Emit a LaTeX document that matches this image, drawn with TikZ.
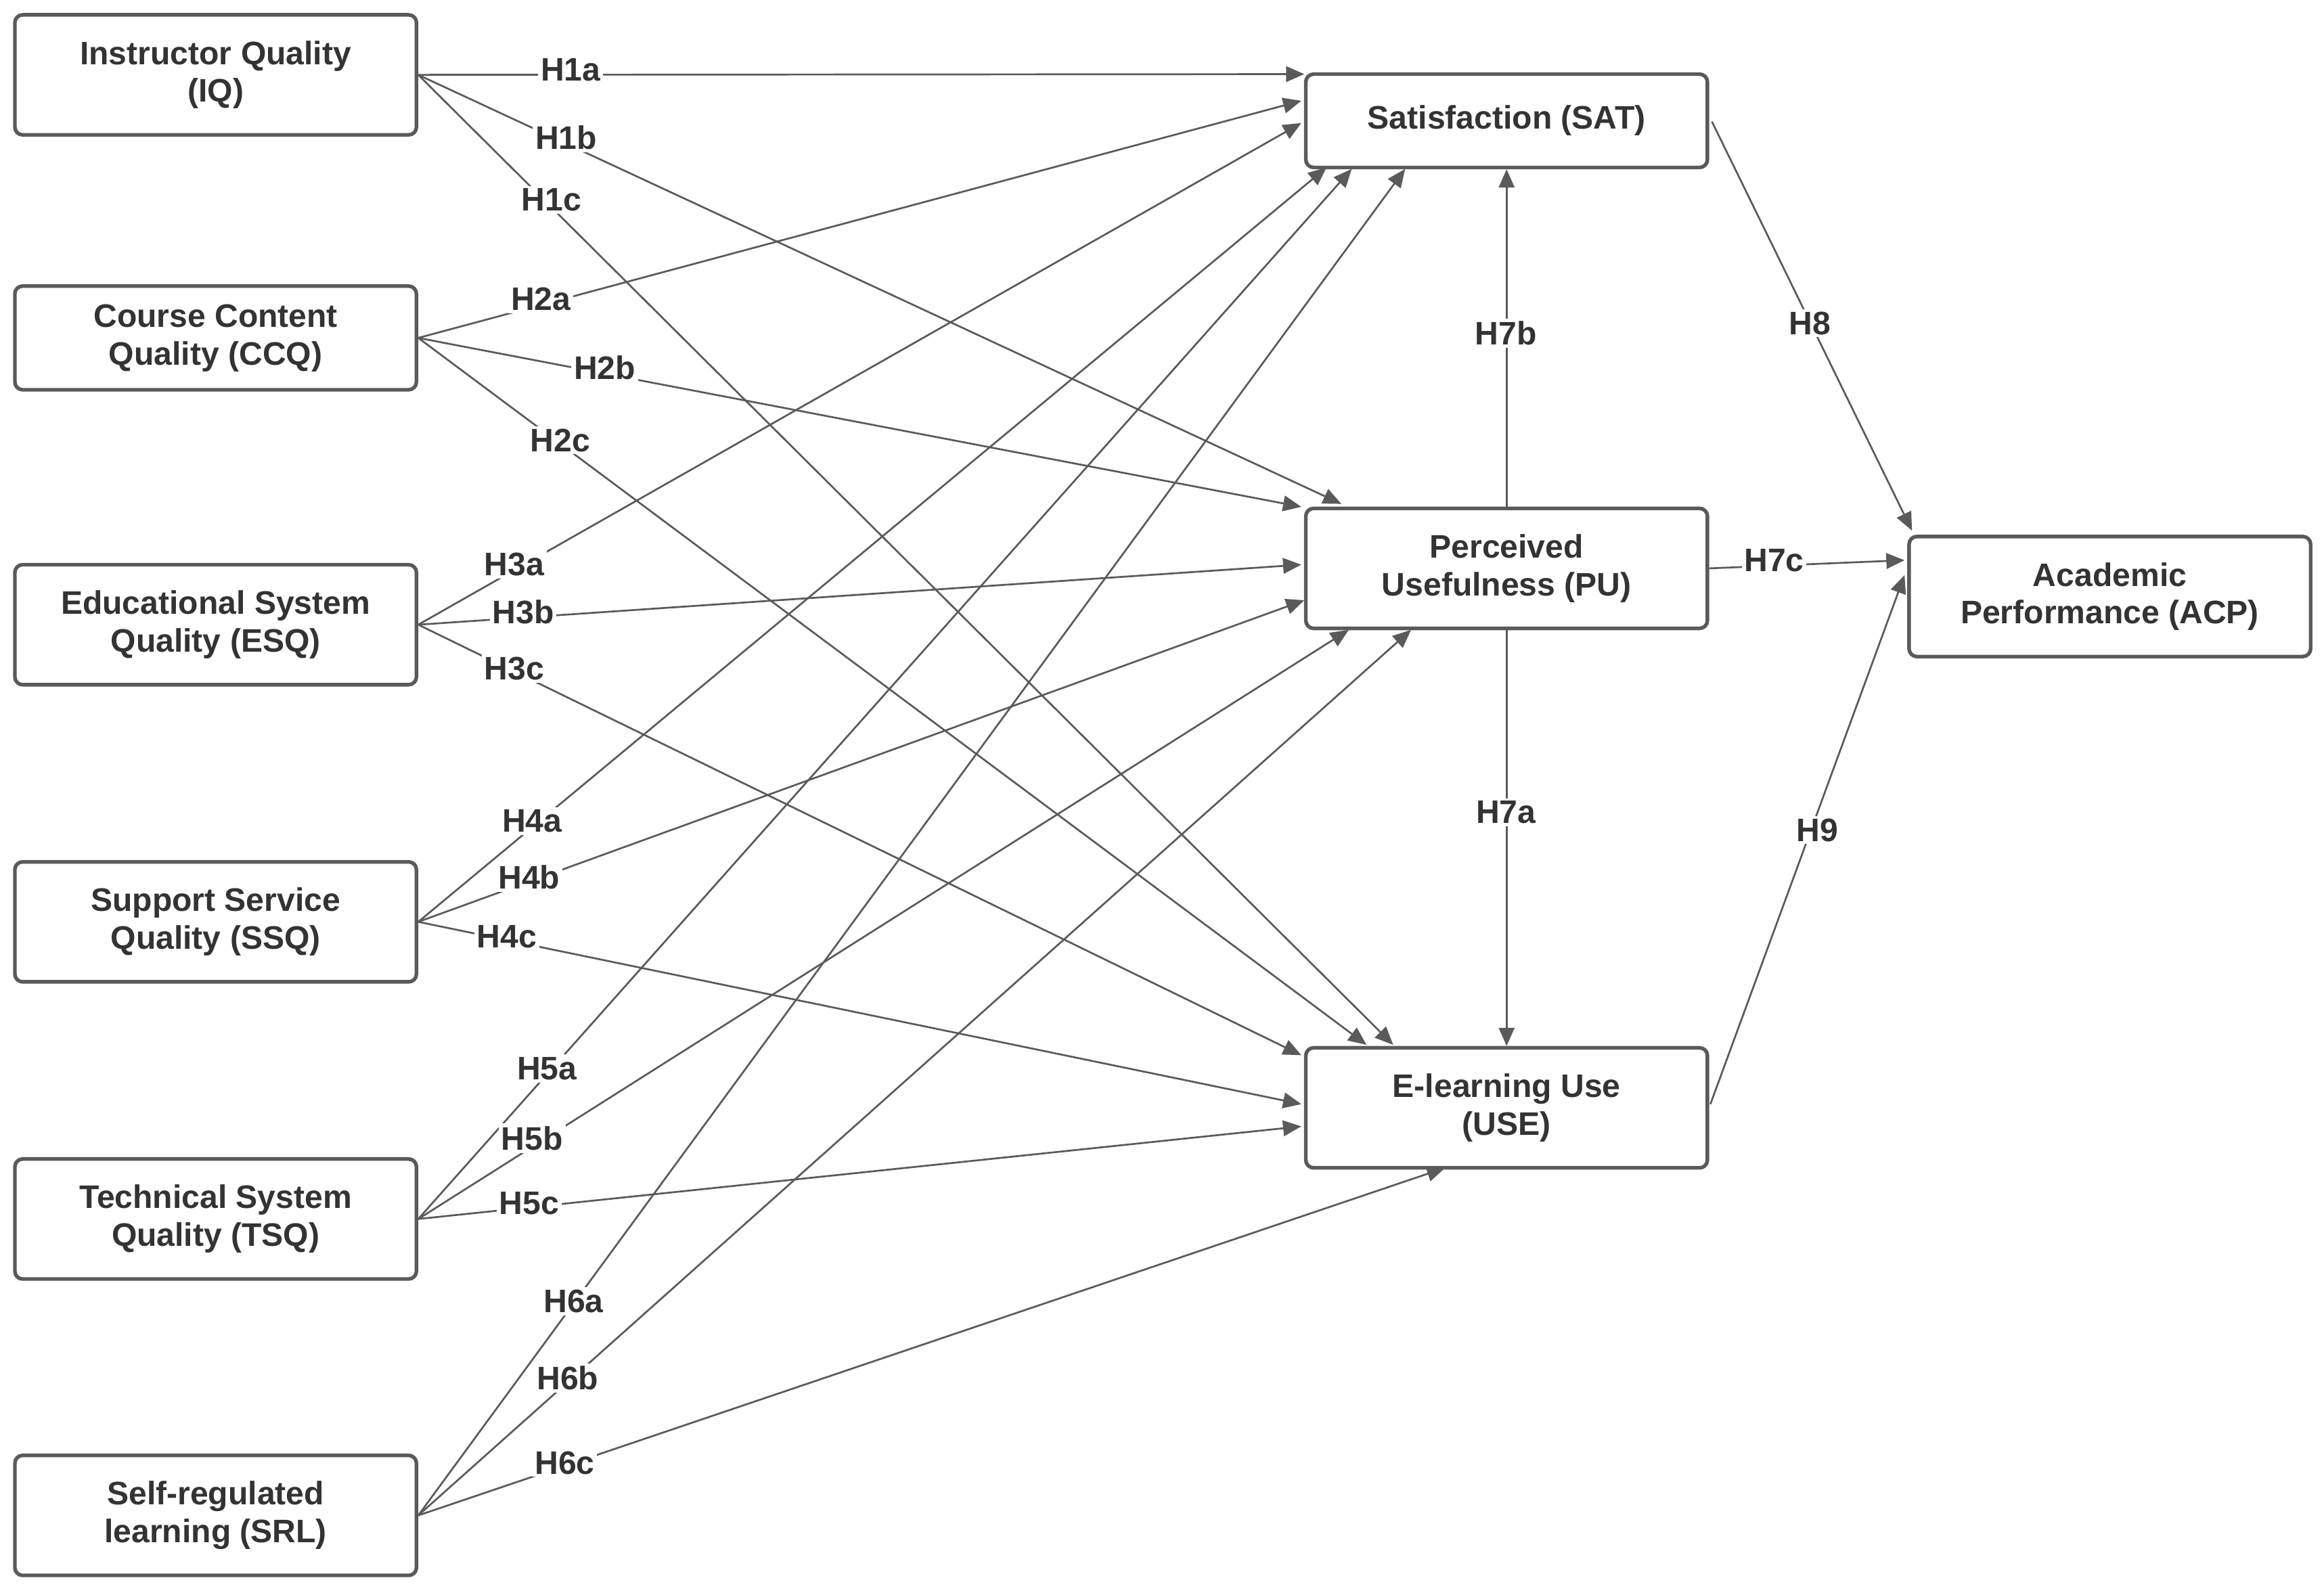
\documentclass[tikz,border=0pt]{standalone}
\usepackage{fontspec}
\setmainfont{Liberation Sans}
\usetikzlibrary{arrows.meta}
\definecolor{ln}{HTML}{5A5A5A}
\definecolor{tx}{HTML}{333333}
\begin{document}
\begin{tikzpicture}[x=0.02cm,y=-0.02cm,
  box/.style={draw=ln,line width=1.4pt,rounded corners=3pt,minimum width=5.42cm,minimum height=1.62cm,align=center,font=\fontsize{12.5}{14.5}\selectfont\bfseries,text=tx},
  box2/.style={box,minimum height=1.26cm},
  ar/.style={draw=ln,line width=0.7pt,-{Triangle[length=7pt,width=6pt]}},
  lb/.style={fill=white,inner sep=1pt,text=tx,font=\fontsize{12.5}{14}\selectfont\bfseries}]
\useasboundingbox (0,0) rectangle (1568,1076);
\node[box] (IQ) at (145.5,50.5) {Instructor Quality\\(IQ)};
\node[box2,minimum height=1.4cm] (CCQ) at (145.5,228) {Course Content\\Quality (CCQ)};
\node[box] (ESQ) at (145.5,421.5) {Educational System\\Quality (ESQ)};
\node[box] (SSQ) at (145.5,622) {Support Service\\Quality (SSQ)};
\node[box] (TSQ) at (145.5,822.5) {Technical System\\Quality (TSQ)};
\node[box] (SRL) at (145.5,1022.5) {Self-regulated\\learning (SRL)};
\node[box2] (SAT) at (1016.5,81.5) {Satisfaction (SAT)};
\node[box] (PU) at (1016.5,383.5) {Perceived\\Usefulness (PU)};
\node[box] (USE) at (1016.5,747.5) {E-learning Use\\(USE)};
\node[box] (ACP) at (1423.5,402.5) {Academic\\Performance (ACP)};
\foreach \n in {IQ,CCQ,ESQ,SSQ,TSQ,SRL}{\coordinate (\n o) at (\n.east);}
\coordinate (t1a) at (880,50); \coordinate (t1b) at (905,340); \coordinate (t1c) at (940,705);
\coordinate (t2a) at (878,68); \coordinate (t2b) at (878,342); \coordinate (t2c) at (922,705);
\coordinate (t3a) at (878,83); \coordinate (t3b) at (878,381); \coordinate (t3c) at (878,712);
\coordinate (t4a) at (895,113); \coordinate (t4b) at (880,405); \coordinate (t4c) at (878,745);
\coordinate (t5a) at (912,114); \coordinate (t5b) at (910,425); \coordinate (t5c) at (878,760);
\coordinate (t6a) at (948,114); \coordinate (t6b) at (952,425); \coordinate (t6c) at (975,788);
\foreach \s/\k in {IQo/1,CCQo/2,ESQo/3,SSQo/4,TSQo/5,SRLo/6}{
  \foreach \l in {a,b,c}{\draw[ar] (\s) -- (t\k\l);}}
\draw[ar] (PU.north) -- (SAT.south);
\draw[ar] (PU.south) -- (USE.north);
\coordinate (s8) at (1155,82); \coordinate (e8) at (1290,358);
\coordinate (e7) at (1285,378); \coordinate (s9) at (1154,745); \coordinate (e9) at (1285,388);
\draw[ar] (s8) -- (e8);
\draw[ar] (PU.east) -- (e7);
\draw[ar] (s9) -- (e9);
\foreach \t/\x/\y in {H1a/385/47,H1b/382/93,H1c/372/135,H2a/365/202,H2b/408/248,H2c/378/297,
  H3a/347/381,H3b/353/413,H3c/347/451,H4a/359/554,H4b/357/592,H4c/342/632,
  H5a/369/721,H5b/359/768,H5c/357/812,H6a/387/878,H6b/383/930,H6c/381/987,
  H7b/1016/225,H7a/1016/548,H7c/1197/378,H8/1221/218,H9/1226/560}{
  \node[lb] (L\t) at (\x,\y) {\t};}
\end{tikzpicture}
\end{document}
